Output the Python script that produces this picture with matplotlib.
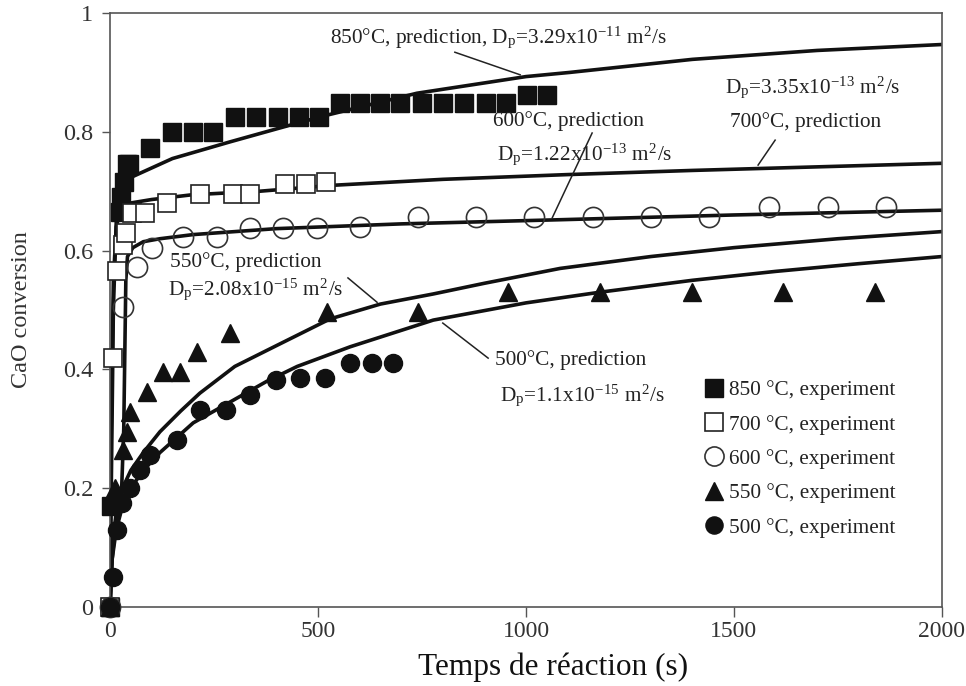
import matplotlib
matplotlib.use("Agg")
import matplotlib.pyplot as plt

plt.rcParams['font.family'] = ['Liberation Serif', 'DejaVu Serif']
plt.rcParams['mathtext.fontset'] = 'stix'

# ---------------- experimental data ----------------
t_850 = [0, 3, 25, 27, 33, 40, 45, 95, 150, 200, 248, 300, 352, 404, 455, 502,
         552, 600, 648, 698, 750, 800, 852, 905, 952, 1002, 1050]
x_850 = [0, 0.17, 0.665, 0.69, 0.715, 0.745, 0.745, 0.773, 0.80, 0.80, 0.80,
         0.825, 0.825, 0.825, 0.825, 0.825, 0.848, 0.848, 0.848, 0.848, 0.848,
         0.848, 0.848, 0.848, 0.848, 0.862, 0.862]

t_700 = [0, 7, 17, 30, 38, 53, 84, 137, 216, 296, 337, 421, 471, 519]
x_700 = [0, 0.42, 0.565, 0.61, 0.63, 0.663, 0.663, 0.68, 0.695, 0.695, 0.695,
         0.712, 0.712, 0.715]

t_600 = [0, 30, 65, 100, 176, 257, 336, 416, 497, 600, 740, 880, 1020, 1160,
         1300, 1440, 1585, 1725, 1865]
x_600 = [0, 0.505, 0.573, 0.605, 0.623, 0.623, 0.638, 0.638, 0.638, 0.64,
         0.657, 0.657, 0.657, 0.657, 0.657, 0.657, 0.673, 0.673, 0.673]

t_550 = [0, 12, 31, 41, 48, 89, 127, 168, 209, 288, 522, 740, 957, 1178, 1399,
         1618, 1839]
x_550 = [0, 0.2, 0.264, 0.295, 0.328, 0.362, 0.396, 0.396, 0.43, 0.462, 0.497,
         0.496, 0.53, 0.53, 0.53, 0.53, 0.53]

t_500 = [0, 7, 17, 29, 48, 72, 96, 161, 216, 279, 337, 399, 457, 517, 577, 630, 680]
x_500 = [0, 0.05, 0.13, 0.175, 0.2, 0.23, 0.256, 0.281, 0.332, 0.332, 0.357,
         0.382, 0.385, 0.385, 0.41, 0.41, 0.41]

# ---------------- model predictions ----------------
pt_850 = [0, 3, 8, 15, 25, 40, 65, 150, 288, 416, 521, 738, 1000, 1105, 1400, 1700, 2000]
px_850 = [0, 0.2, 0.5, 0.65, 0.71, 0.72, 0.728, 0.755, 0.783, 0.808, 0.828,
          0.865, 0.893, 0.9, 0.922, 0.937, 0.947]

pt_700 = [0, 3, 8, 15, 25, 48, 100, 197, 360, 536, 800, 1100, 1400, 1700, 2000]
px_700 = [0, 0.3, 0.55, 0.64, 0.668, 0.68, 0.686, 0.694, 0.70, 0.71, 0.72,
          0.728, 0.735, 0.741, 0.747]

pt_600 = [0, 5, 15, 28, 33, 36, 38, 42, 55, 80, 120, 200, 400, 700, 1082, 1500, 2000]
px_600 = [0, 0.08, 0.15, 0.2, 0.3, 0.45, 0.55, 0.59, 0.605, 0.615, 0.62, 0.627,
          0.637, 0.645, 0.652, 0.66, 0.668]

pt_550 = [0, 5, 15, 30, 50, 80, 120, 170, 216, 300, 400, 529, 650, 777, 900,
          1082, 1300, 1500, 1750, 2000]
px_550 = [0, 0.1, 0.16, 0.2, 0.23, 0.26, 0.295, 0.33, 0.36, 0.405, 0.44, 0.485,
          0.51, 0.527, 0.545, 0.57, 0.59, 0.605, 0.62, 0.632]

pt_500 = [0, 5, 15, 30, 50, 80, 120, 152, 200, 296, 377, 450, 577, 777, 1000,
          1178, 1400, 1600, 1800, 2000]
px_500 = [0, 0.08, 0.13, 0.17, 0.2, 0.23, 0.26, 0.28, 0.31, 0.348, 0.38, 0.405,
          0.438, 0.483, 0.512, 0.53, 0.55, 0.565, 0.578, 0.59]

x_ticks = [0, 500, 1000, 1500, 2000]
y_ticks = [0, 0.2, 0.4, 0.6, 0.8, 1]
y_tick_labels = ['0', '0.2', '0.4', '0.6', '0.8', '1']

# ---------------- figure ----------------
fig = plt.figure(figsize=(9.66, 6.86), dpi=100)
ax = fig.add_axes([0.1139, 0.1152, 0.8612, 0.8658])

lw = 2.6
for pt, px in [(pt_850, px_850), (pt_700, px_700), (pt_600, px_600),
               (pt_550, px_550), (pt_500, px_500)]:
    ax.plot(pt, px, color='#111111', lw=lw, zorder=2, solid_capstyle='round')

ax.plot(t_850, x_850, ls='none', marker='s', ms=13, mfc='#111111', mec='#111111',
        mew=1.0, label='850 °C, experiment', zorder=3, clip_on=False)
ax.plot(t_700, x_700, ls='none', marker='s', ms=13, mfc='white', mec='#222222',
        mew=1.2, label='700 °C, experiment', zorder=3, clip_on=False)
ax.plot(t_600, x_600, ls='none', marker='o', ms=14.5, mfc='none', mec='#333333',
        mew=1.2, label='600 °C, experiment', zorder=3, clip_on=False)
ax.plot(t_550, x_550, ls='none', marker='^', ms=13, mfc='#111111', mec='#111111',
        mew=1.0, label='550 °C, experiment', zorder=3, clip_on=False)
ax.plot(t_500, x_500, ls='none', marker='o', ms=13, mfc='#111111', mec='#111111',
        mew=1.0, label='500 °C, experiment', zorder=3, clip_on=False)

ax.set_xlim(0, 2000)
ax.set_ylim(0, 1)
ax.set_xticks(x_ticks)
ax.set_yticks(y_ticks)
ax.set_yticklabels(y_tick_labels)
ax.tick_params(axis='x', direction='out', length=7, width=1.0, color='#555555',
               labelsize=17, labelcolor='#333333', pad=3)
ax.tick_params(axis='y', direction='out', length=6, width=1.0, color='#555555',
               labelsize=17.5, labelcolor='#333333', pad=6)
for s in ax.spines.values():
    s.set_color('#555555')
    s.set_linewidth(1.2)

ax.set_xlabel('Temps de réaction (s)', fontsize=22.5, color='#111111', va='center')
ax.xaxis.set_label_coords(0.532, -0.101)
ax.set_ylabel('CaO conversion', fontsize=17.5, color='#333333', va='center')
ax.yaxis.set_label_coords(-0.106, 0.5)

tc = '#222222'
fs = 15.3
R = r'\mathregular'
ax.text(529, 0.958, r'850°C, prediction, D$_{%s{p}}$=3.29x10$^{%s{-11}}$ m$^{%s{2}}$/s' % (R, R, R),
        fontsize=fs, color=tc, va='center', ha='left')
ax.plot([829, 986], [0.934, 0.896], color='#222222', lw=1.1)

ax.text(1478, 0.874, r'D$_{%s{p}}$=3.35x10$^{%s{-13}}$ m$^{%s{2}}$/s' % (R, R, R),
        fontsize=fs, color=tc, va='center', ha='left')
ax.text(1490, 0.816, '700°C, prediction', fontsize=fs, color=tc, va='center', ha='left')
ax.plot([1599, 1558], [0.786, 0.744], color='#222222', lw=1.1)

ax.text(921, 0.818, '600°C, prediction', fontsize=fs, color=tc, va='center', ha='left')
ax.text(930, 0.761, r'D$_{%s{p}}$=1.22x10$^{%s{-13}}$ m$^{%s{2}}$/s' % (R, R, R),
        fontsize=fs, color=tc, va='center', ha='left')
ax.plot([1159, 1063], [0.798, 0.655], color='#222222', lw=1.1)

ax.text(144, 0.581, '550°C, prediction', fontsize=fs, color=tc, va='center', ha='left')
ax.text(139, 0.535, r'D$_{%s{p}}$=2.08x10$^{%s{-15}}$ m$^{%s{2}}$/s' % (R, R, R),
        fontsize=fs, color=tc, va='center', ha='left')
ax.plot([572, 642], [0.554, 0.513], color='#222222', lw=1.1)

ax.text(925, 0.416, '500°C, prediction', fontsize=fs, color=tc, va='center', ha='left')
ax.text(937, 0.355, r'D$_{%s{p}}$=1.1x10$^{%s{-15}}$ m$^{%s{2}}$/s' % (R, R, R),
        fontsize=fs, color=tc, va='center', ha='left')
ax.plot([909, 800], [0.419, 0.478], color='#222222', lw=1.1)

leg = ax.legend(loc='upper left', bbox_to_anchor=(0.706, 0.396), frameon=False,
                fontsize=fs, handlelength=0.8, handletextpad=0.3,
                labelspacing=0.68, borderaxespad=0, markerscale=0.95)
for txt in leg.get_texts():
    txt.set_color(tc)

fig.savefig('out.png', dpi=100)
